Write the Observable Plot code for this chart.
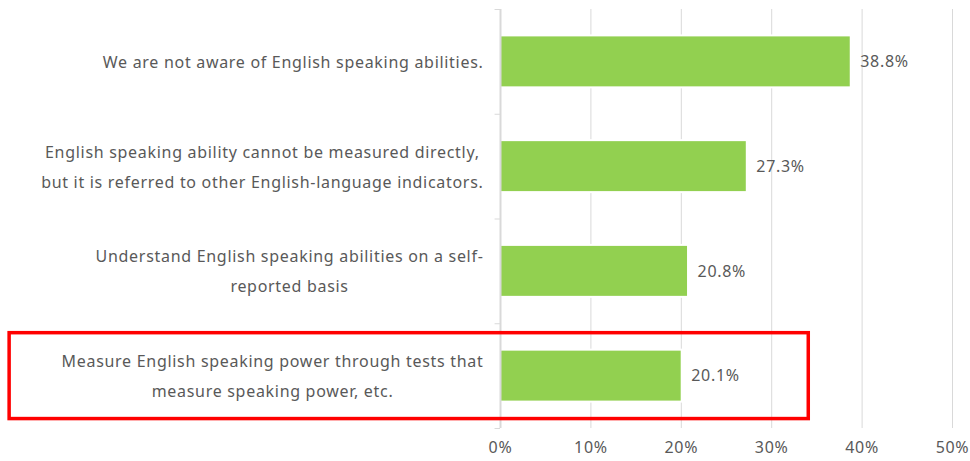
<!DOCTYPE html>
<html><head><meta charset="utf-8">
<script src="https://cdn.jsdelivr.net/npm/d3@7"></script>
<script src="https://cdn.jsdelivr.net/npm/@observablehq/plot@0.6"></script>
<style>body{margin:0;background:#fff;overflow:hidden}</style>
</head><body><div id="chart"></div>
<script>
const categories = [
  "We are not aware of English speaking abilities.",
  "English speaking ability cannot be measured directly,\nbut it is referred to other English-language indicators.",
  "Understand English speaking abilities on a self-\nreported basis",
  "Measure English speaking power through tests that\nmeasure speaking power, etc."
];
const values = [38.8, 27.3, 20.8, 20.1];
const xTicks = [0, 10, 20, 30, 40, 50];
const highlightCategories = [categories[3]];
const highlightX = [-54.3, 34.1];

const FONT = "Noto Sans";
const FS = 16;
const LS = 0.7;
const TEXT = "#595959";
const GRID = "#d9d9d9";
const data = categories.map((c, i) => ({category: c, i, value: values[i]}));
const boundaries = d3.range(categories.length + 1).map(i => i - 0.5);

const ctx = document.createElement("canvas").getContext("2d");
ctx.font = `${FS}px "${FONT}"`;
const labelMarks = data.map(d => {
  const w = d3.max(d.category.split("\n"), l => ctx.measureText(l).width + l.length * LS);
  return Plot.text([d], {x: 0, y: "i", text: "category", textAnchor: "middle",
    dx: -(17 + w / 2), dy: -3.5, lineHeight: 30 / FS, fontSize: FS, fill: TEXT});
});

const chart = Plot.plot({
  width: 970, height: 461,
  marginLeft: 500, marginRight: 18, marginTop: 9, marginBottom: 33,
  style: {fontFamily: FONT, fontSize: FS + "px", color: TEXT, background: "#fff", letterSpacing: LS + "px"},
  x: {domain: [0, 50], ticks: xTicks, tickFormat: d => d + "%", tickSize: 0, tickPadding: 13, label: null},
  y: {domain: [categories.length - 0.5, -0.5], axis: null},
  marks: [
    Plot.ruleX(xTicks, {stroke: GRID, strokeWidth: 1}),
    Plot.ruleY(boundaries, {x1: -0.6, x2: 0, stroke: GRID, strokeWidth: 1}),
    Plot.rectX(data, {x1: 0, x2: "value", y1: d => d.i - 0.248, y2: d => d.i + 0.248,
      fill: "#92D050", stroke: "#fff", strokeWidth: 2}),
    Plot.ruleX([0], {stroke: GRID, strokeWidth: 2}),
    Plot.text(data, {x: "value", y: "i", text: d => d.value.toFixed(1) + "%", dx: 9,
      textAnchor: "start", fontSize: FS, fill: TEXT}),
    ...labelMarks,
    Plot.rect(highlightCategories, {x1: highlightX[0], x2: highlightX[1],
      y1: c => categories.indexOf(c) - 0.41, y2: c => categories.indexOf(c) + 0.41,
      fill: "none", stroke: "#ff0000", strokeWidth: 3.5})
  ]
});
document.getElementById("chart").append(chart);
</script>
</body></html>
